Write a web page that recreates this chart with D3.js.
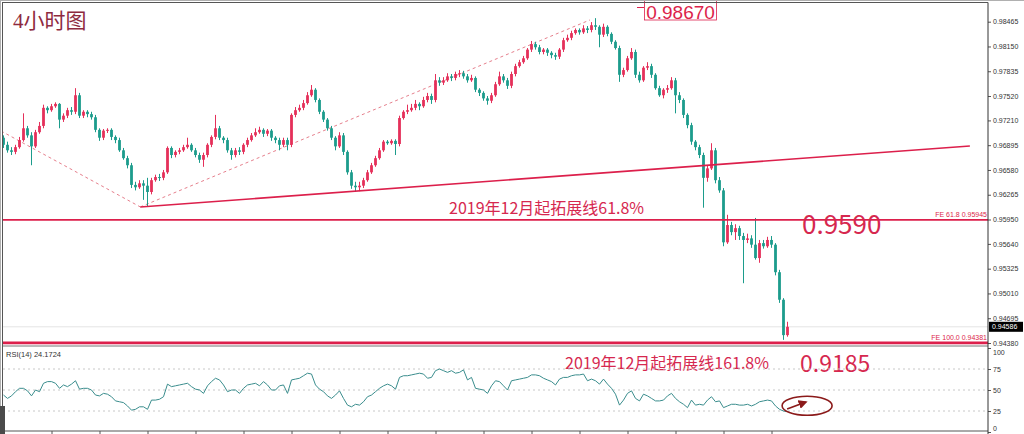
<!DOCTYPE html>
<html><head><meta charset="utf-8">
<script src="https://cdn.jsdelivr.net/npm/d3@7"></script>
<style>html,body{margin:0;padding:0;background:#fff;overflow:hidden}svg{display:block}</style>
</head><body>
<svg id="chart" width="1024" height="434"></svg>
<script>
// ---------------- DATA ----------------
const openP = [0.9699,0.9690,0.9683,0.9681,0.9687,0.9696,0.9711,0.9702,0.9688,0.9706,
0.9714,0.9737,0.9734,0.9739,0.9742,0.9722,0.9727,0.9734,0.9732,0.9753,
0.9727,0.9732,0.9729,0.9725,0.9709,0.9699,0.9708,0.9709,0.9700,0.9696,
0.9683,0.9673,0.9664,0.9639,0.9636,0.9641,0.9638,0.9630,0.9645,0.9649,
0.9648,0.9655,0.9686,0.9677,0.9681,0.9683,0.9687,0.9690,0.9683,0.9677,
0.9671,0.9677,0.9690,0.9700,0.9711,0.9699,0.9696,0.9683,0.9677,0.9683,
0.9681,0.9690,0.9696,0.9702,0.9706,0.9709,0.9704,0.9708,0.9699,0.9696,
0.9690,0.9696,0.9690,0.9728,0.9734,0.9737,0.9743,0.9753,0.9760,0.9747,
0.9732,0.9722,0.9711,0.9699,0.9688,0.9702,0.9681,0.9655,0.9638,0.9636,
0.9638,0.9645,0.9655,0.9664,0.9673,0.9683,0.9694,0.9692,0.9695,0.9691,
0.9724,0.9732,0.9734,0.9737,0.9742,0.9739,0.9747,0.9752,0.9747,0.9772,
0.9769,0.9772,0.9777,0.9775,0.9780,0.9781,0.9777,0.9772,0.9775,0.9760,
0.9756,0.9749,0.9746,0.9753,0.9767,0.9777,0.9772,0.9765,0.9780,0.9790,
0.9795,0.9800,0.9811,0.9818,0.9814,0.9808,0.9811,0.9807,0.9804,0.9802,
0.9811,0.9823,0.9826,0.9832,0.9836,0.9833,0.9838,0.9836,0.9842,0.9840,
0.9830,0.9840,0.9831,0.9821,0.9813,0.9779,0.9785,0.9800,0.9808,0.9779,
0.9772,0.9788,0.9790,0.9779,0.9762,0.9753,0.9760,0.9762,0.9772,0.9753,
0.9747,0.9728,0.9715,0.9694,0.9687,0.9677,0.9648,0.9660,0.9683,0.9645,
0.9632,0.9566,0.9588,0.9579,0.9584,0.9574,0.9569,0.9571,0.9563,0.9546,
0.9565,0.9561,0.9569,0.9563,0.9528,0.9493,0.9448];
const highP = [0.9702,0.9694,0.9687,0.9690,0.9700,0.9730,0.9714,0.9706,0.9709,0.9719,
0.9741,0.9739,0.9742,0.9744,0.9743,0.9730,0.9737,0.9738,0.9762,0.9756,
0.9734,0.9734,0.9732,0.9728,0.9711,0.9710,0.9711,0.9711,0.9702,0.9699,
0.9686,0.9676,0.9667,0.9643,0.9645,0.9645,0.9648,0.9648,0.9652,0.9653,
0.9658,0.9688,0.9688,0.9683,0.9686,0.9690,0.9699,0.9692,0.9686,0.9680,
0.9680,0.9692,0.9702,0.9728,0.9714,0.9701,0.9699,0.9686,0.9686,0.9687,
0.9692,0.9699,0.9705,0.9711,0.9713,0.9711,0.9710,0.9710,0.9701,0.9699,
0.9699,0.9699,0.9730,0.9738,0.9741,0.9747,0.9757,0.9766,0.9762,0.9749,
0.9734,0.9724,0.9714,0.9701,0.9706,0.9705,0.9683,0.9658,0.9643,0.9643,
0.9648,0.9658,0.9667,0.9676,0.9686,0.9696,0.9696,0.9697,0.9697,0.9727,
0.9734,0.9741,0.9742,0.9747,0.9744,0.9751,0.9756,0.9755,0.9780,0.9776,
0.9776,0.9781,0.9780,0.9783,0.9785,0.9784,0.9780,0.9779,0.9777,0.9762,
0.9758,0.9752,0.9756,0.9770,0.9783,0.9780,0.9775,0.9783,0.9793,0.9798,
0.9803,0.9813,0.9822,0.9821,0.9817,0.9813,0.9813,0.9809,0.9807,0.9813,
0.9826,0.9830,0.9835,0.9838,0.9838,0.9842,0.9841,0.9846,0.9851,0.9842,
0.9844,0.9842,0.9833,0.9823,0.9816,0.9788,0.9803,0.9813,0.9811,0.9783,
0.9790,0.9795,0.9793,0.9781,0.9765,0.9762,0.9766,0.9776,0.9775,0.9757,
0.9749,0.9730,0.9718,0.9696,0.9690,0.9680,0.9664,0.9692,0.9686,0.9649,
0.9635,0.9601,0.9592,0.9589,0.9587,0.9578,0.9577,0.9575,0.9597,0.9569,
0.9569,0.9573,0.9574,0.9565,0.9531,0.9495,0.9465];
const lowP = [0.9686,0.9680,0.9677,0.9678,0.9685,0.9694,0.9699,0.9664,0.9686,0.9704,
0.9711,0.9730,0.9732,0.9737,0.9711,0.9719,0.9724,0.9728,0.9729,0.9724,
0.9724,0.9725,0.9722,0.9706,0.9695,0.9696,0.9705,0.9696,0.9692,0.9681,
0.9671,0.9660,0.9635,0.9632,0.9634,0.9620,0.9611,0.9627,0.9643,0.9644,
0.9645,0.9653,0.9673,0.9674,0.9678,0.9681,0.9685,0.9681,0.9674,0.9667,
0.9662,0.9674,0.9687,0.9697,0.9696,0.9692,0.9680,0.9671,0.9674,0.9677,
0.9678,0.9687,0.9694,0.9700,0.9704,0.9700,0.9701,0.9695,0.9692,0.9683,
0.9687,0.9683,0.9687,0.9725,0.9732,0.9734,0.9741,0.9751,0.9744,0.9729,
0.9719,0.9708,0.9696,0.9683,0.9686,0.9677,0.9652,0.9634,0.9630,0.9631,
0.9635,0.9643,0.9653,0.9662,0.9671,0.9681,0.9690,0.9690,0.9677,0.9688,
0.9722,0.9729,0.9732,0.9734,0.9734,0.9737,0.9744,0.9742,0.9744,0.9765,
0.9766,0.9770,0.9771,0.9772,0.9776,0.9774,0.9769,0.9770,0.9757,0.9752,
0.9746,0.9741,0.9743,0.9751,0.9765,0.9769,0.9761,0.9762,0.9777,0.9788,
0.9793,0.9798,0.9808,0.9811,0.9805,0.9805,0.9803,0.9800,0.9798,0.9799,
0.9808,0.9821,0.9823,0.9830,0.9830,0.9831,0.9832,0.9833,0.9836,0.9814,
0.9827,0.9828,0.9818,0.9811,0.9770,0.9776,0.9783,0.9798,0.9775,0.9769,
0.9770,0.9785,0.9775,0.9760,0.9751,0.9749,0.9756,0.9760,0.9730,0.9743,
0.9724,0.9711,0.9690,0.9683,0.9673,0.9610,0.9643,0.9658,0.9641,0.9629,
0.9561,0.9564,0.9575,0.9569,0.9569,0.9514,0.9565,0.9559,0.9544,0.9540,
0.9558,0.9559,0.9559,0.9524,0.9489,0.9442,0.9446];
const closeP = [0.9690,0.9683,0.9681,0.9687,0.9696,0.9711,0.9702,0.9688,0.9706,0.9714,
0.9737,0.9734,0.9739,0.9742,0.9722,0.9727,0.9734,0.9732,0.9753,0.9727,
0.9732,0.9729,0.9725,0.9709,0.9699,0.9708,0.9709,0.9700,0.9696,0.9683,
0.9673,0.9664,0.9639,0.9636,0.9641,0.9638,0.9630,0.9645,0.9649,0.9648,
0.9655,0.9686,0.9677,0.9681,0.9683,0.9687,0.9690,0.9683,0.9677,0.9671,
0.9677,0.9690,0.9700,0.9711,0.9699,0.9696,0.9683,0.9677,0.9683,0.9681,
0.9690,0.9696,0.9702,0.9706,0.9709,0.9704,0.9708,0.9699,0.9696,0.9690,
0.9696,0.9690,0.9728,0.9734,0.9737,0.9743,0.9753,0.9760,0.9747,0.9732,
0.9722,0.9711,0.9699,0.9688,0.9702,0.9681,0.9655,0.9638,0.9636,0.9638,
0.9645,0.9655,0.9664,0.9673,0.9683,0.9694,0.9692,0.9695,0.9691,0.9724,
0.9732,0.9734,0.9737,0.9742,0.9739,0.9747,0.9752,0.9747,0.9772,0.9769,
0.9772,0.9777,0.9775,0.9780,0.9781,0.9777,0.9772,0.9775,0.9760,0.9756,
0.9749,0.9746,0.9753,0.9767,0.9777,0.9772,0.9765,0.9780,0.9790,0.9795,
0.9800,0.9811,0.9818,0.9814,0.9808,0.9811,0.9807,0.9804,0.9802,0.9811,
0.9823,0.9826,0.9832,0.9836,0.9833,0.9838,0.9836,0.9842,0.9840,0.9830,
0.9840,0.9831,0.9821,0.9813,0.9779,0.9785,0.9800,0.9808,0.9779,0.9772,
0.9788,0.9790,0.9779,0.9762,0.9753,0.9760,0.9762,0.9772,0.9753,0.9747,
0.9728,0.9715,0.9694,0.9687,0.9677,0.9648,0.9660,0.9683,0.9645,0.9632,
0.9566,0.9588,0.9579,0.9584,0.9574,0.9569,0.9571,0.9563,0.9546,0.9565,
0.9561,0.9569,0.9563,0.9528,0.9493,0.9448,0.94586];
const rsi14 = [44,40,43,48,52,52,49,43,50,48,
58,60,60,58,52,56,54,57,61,51,
52,52,50,44,43,46,45,42,37,36,
35,31,26,27,30,30,27,38,38,39,
42,57,54,55,56,57,58,54,51,50,
46,55,60,64,62,56,48,50,50,46,
52,56,57,58,55,60,56,50,50,55,
56,46,62,63,64,67,70,69,56,51,
48,43,40,44,49,40,32,30,33,32,
36,42,44,48,52,55,57,55,51,65,
67,67,68,69,70,69,64,65,73,75,
73,71,73,70,71,74,62,65,52,51,
50,46,55,61,60,55,50,61,62,63,
64,65,68,68,67,64,62,60,56,63,
65,65,67,68,68,69,61,63,61,57,
63,57,52,45,32,38,46,49,40,37,
45,43,40,37,37,38,43,46,40,36,
33,29,38,32,33,32,38,42,36,37,
29,31,33,33,32,32,33,31,33,36,
37,38,37,31,27,25,24.17];
const priceTicks = [0.98465,0.98150,0.97835,0.97520,0.97210,0.96895,0.96580,0.96265,0.95950,0.95640,0.95325,0.95010,0.94695,0.94380];
const rsiTicks = [100,75,50,25,0];
const rsiLevels = [75,50,25];
const timeTicks = [0,12,24,36,48,60,72,84,96,108,120,132,144,156,168,180,192];
const feLevels = [{name:"FE 61.8", value:0.95945},{name:"FE 100.0", value:0.94381}];
const lastPrice = 0.94586;
const rsiNow = 24.1724;
// trend lines in (bar index, price)
const solidTrend = [[34.2,0.96110],[241.6,0.96885]];
const dashedTrend = [[[-0.6,0.97075],[34.2,0.96110]],[[34.2,0.96110],[146.6,0.98487]]];
const topLevel = 0.98670;
const rsiMark = {cx:200.9, cy:31.3, from:[195.9,27.4], to:[200.6,35.7]};

// ---------------- LAYOUT ----------------
const svg = d3.select("#chart");
const RED = "#e5305a", TEAL = "#1c9c8c", LINE = "#dc1f4b", TXT = "#d6284f";
const axisX = 988;
const x = d3.scaleLinear().domain([0,196]).range([3.5,787.5]);
const y = d3.scaleLinear().domain([0.94380,0.98465]).range([343,21.7]);
const yr = d3.scaleLinear().domain([0,100]).range([432,348]);

svg.append("rect").attr("width",1024).attr("height",434).attr("fill","#fff");

const defs = svg.append("defs");
defs.append("clipPath").attr("id","mainClip").append("rect").attr("x",3).attr("y",3).attr("width",axisX-3).attr("height",342);
defs.append("clipPath").attr("id","rsiClip").append("rect").attr("x",3).attr("y",347).attr("width",axisX-3).attr("height",85);
defs.append("marker").attr("id","arr").attr("viewBox","0 0 10 10").attr("refX",8).attr("refY",5)
  .attr("markerWidth",5).attr("markerHeight",5).attr("orient","auto")
  .append("path").attr("d","M0,0L10,5L0,10z").attr("fill","#8b1a1a");

const main = svg.append("g").attr("clip-path","url(#mainClip)");

// current price line
main.append("line").attr("x1",3).attr("x2",axisX).attr("y1",y(lastPrice)).attr("y2",y(lastPrice))
  .attr("stroke","#e4e4e4").attr("stroke-width",1);

// dashed trend lines
dashedTrend.forEach(seg=>{
  main.append("line").attr("x1",x(seg[0][0])).attr("y1",y(seg[0][1])).attr("x2",x(seg[1][0])).attr("y2",y(seg[1][1]))
    .attr("stroke","#e2707f").attr("stroke-width",0.9).attr("stroke-dasharray","3,3");
});

// candles
const idx = d3.range(closeP.length);
const cg = main.append("g");
cg.selectAll("line.w").data(idx).join("line").attr("class","w")
  .attr("x1",i=>x(i)).attr("x2",i=>x(i))
  .attr("y1",i=>y(highP[i])).attr("y2",i=>y(lowP[i]))
  .attr("stroke",i=>closeP[i]>=openP[i]?RED:TEAL).attr("stroke-width",1);
cg.selectAll("rect.b").data(idx).join("rect").attr("class","b")
  .attr("x",i=>x(i)-1.4).attr("width",2.8)
  .attr("y",i=>y(Math.max(openP[i],closeP[i])))
  .attr("height",i=>Math.max(1,y(Math.min(openP[i],closeP[i]))-y(Math.max(openP[i],closeP[i]))))
  .attr("fill",i=>closeP[i]>=openP[i]?RED:TEAL);

// solid trend line
main.append("line").attr("x1",x(solidTrend[0][0])).attr("y1",y(solidTrend[0][1]))
  .attr("x2",x(solidTrend[1][0])).attr("y2",y(solidTrend[1][1]))
  .attr("stroke",LINE).attr("stroke-width",1.6);

// FE horizontal lines
feLevels.forEach((f,k)=>{
  main.append("line").attr("x1",3).attr("x2",axisX).attr("y1",y(f.value)).attr("y2",y(f.value))
    .attr("stroke",LINE).attr("stroke-width",k===0?1.8:2.6);
  main.append("text").attr("x",axisX-1).attr("y",y(f.value)-3).attr("text-anchor","end")
    .attr("font-family","Liberation Sans, Arial, sans-serif").attr("font-size",7).attr("fill",LINE)
    .text(f.name+"  "+f.value.toFixed(5));
});

// top level box
const topG = svg.append("g");
topG.append("line").attr("x1",637).attr("x2",644).attr("y1",7.5).attr("y2",7.5).attr("stroke",LINE).attr("stroke-width",1);
topG.append("rect").attr("x",644.5).attr("y",-2).attr("width",72).attr("height",22).attr("fill","#fff").attr("stroke",LINE).attr("stroke-width",0.8);
topG.append("text").attr("x",680.5).attr("y",18.5).attr("text-anchor","middle")
  .attr("font-family","Liberation Sans, Arial, sans-serif").attr("font-size",19).attr("fill",LINE).text(topLevel.toFixed(5));

// annotations
const cjk = "'Noto Sans CJK SC','Noto Sans',sans-serif";
svg.append("text").attr("x",13).attr("y",28).attr("font-family","'Liberation Serif','Noto Sans CJK SC',serif")
  .attr("font-size",21).attr("fill","#8e2a3e").text("4小时图");
svg.append("text").attr("x",449).attr("y",214).attr("font-family",cjk).attr("font-size",16).attr("fill",TXT).text("2019年12月起拓展线61.8%");
svg.append("text").attr("x",802).attr("y",234).attr("font-family",cjk).attr("font-size",26).attr("fill",TXT).text("0.9590");
svg.append("text").attr("x",565).attr("y",369).attr("font-family",cjk).attr("font-size",16).attr("fill",TXT).text("2019年12月起拓展线161.8%");
svg.append("text").attr("x",800).attr("y",372).attr("font-family",cjk).attr("font-size",23).attr("fill",TXT).text("0.9185");

// price axis
const pa = svg.append("g").attr("transform",`translate(${axisX},0)`)
  .call(d3.axisRight(y).tickValues(priceTicks).tickSize(3).tickPadding(2).tickFormat(d3.format(".5f")));
pa.select(".domain").remove();
pa.selectAll("line").attr("stroke","#555");
pa.selectAll("text").attr("font-family","Liberation Sans, Arial, sans-serif").attr("font-size",7).attr("fill","#333");

// last price box
svg.append("rect").attr("x",989).attr("y",y(lastPrice)-5).attr("width",34).attr("height",10).attr("fill","#000");
svg.append("text").attr("x",992).attr("y",y(lastPrice)+2.5).attr("font-family","Liberation Sans, Arial, sans-serif")
  .attr("font-size",7).attr("fill","#fff").text(lastPrice.toFixed(5));

// panel separator
svg.append("line").attr("x1",2).attr("x2",axisX).attr("y1",346).attr("y2",346).attr("stroke","#777").attr("stroke-width",1);

// RSI panel
const rg = svg.append("g").attr("clip-path","url(#rsiClip)");
rsiLevels.forEach(v=>{
  rg.append("line").attr("x1",3).attr("x2",axisX).attr("y1",yr(v)).attr("y2",yr(v))
    .attr("stroke","#c8c8c8").attr("stroke-width",1).attr("stroke-dasharray","2,3");
});
rg.append("path").datum(rsi14).attr("fill","none").attr("stroke","#3a8d8d").attr("stroke-width",1)
  .attr("d",d3.line().x((d,i)=>x(i)).y(d=>yr(d)));
svg.append("text").attr("x",6).attr("y",357).attr("font-family","Liberation Sans, Arial, sans-serif")
  .attr("font-size",7.5).attr("fill","#333").text("RSI(14) "+rsiNow.toFixed(4));

// RSI mark
svg.append("ellipse").attr("cx",x(rsiMark.cx)).attr("cy",yr(rsiMark.cy)).attr("rx",25).attr("ry",9.5)
  .attr("fill","none").attr("stroke","#8b1a1a").attr("stroke-width",1.6);
svg.append("line").attr("x1",x(rsiMark.from[0])).attr("y1",yr(rsiMark.from[1]))
  .attr("x2",x(rsiMark.to[0])).attr("y2",yr(rsiMark.to[1]))
  .attr("stroke","#8b1a1a").attr("stroke-width",1.8).attr("marker-end","url(#arr)");

const ra = svg.append("g").attr("transform",`translate(${axisX},0)`)
  .call(d3.axisRight(yr).tickValues(rsiTicks).tickSize(3).tickPadding(2));
ra.select(".domain").remove();
ra.selectAll("line").attr("stroke","#555");
ra.selectAll("text").attr("font-family","Liberation Sans, Arial, sans-serif").attr("font-size",7).attr("fill","#333")
  .attr("dy",d=>d===100?"0.9em":d===0?"-0.2em":"0.32em");

// time axis
const ta = svg.append("g").attr("transform","translate(0,431)")
  .call(d3.axisBottom(x).tickValues(timeTicks).tickSize(3).tickFormat(""));
ta.select(".domain").remove();
ta.selectAll("line").attr("stroke","#555");

// frame
svg.append("line").attr("x1",2).attr("x2",axisX).attr("y1",431).attr("y2",431).attr("stroke","#555");
svg.append("line").attr("x1",axisX).attr("x2",axisX).attr("y1",2.5).attr("y2",434).attr("stroke","#333");
svg.append("line").attr("x1",0).attr("x2",1024).attr("y1",0.5).attr("y2",0.5).attr("stroke","#b0b0b0");
svg.append("line").attr("x1",2).attr("x2",axisX).attr("y1",2.5).attr("y2",2.5).attr("stroke","#555");
svg.append("line").attr("x1",2.5).attr("x2",2.5).attr("y1",2).attr("y2",434).attr("stroke","#555");
svg.append("line").attr("x1",0.5).attr("x2",0.5).attr("y1",0).attr("y2",434).attr("stroke","#b0b0b0");
svg.append("rect").attr("x",0).attr("y",406).attr("width",5).attr("height",28).attr("fill","#4a4a4a");
</script>
</body></html>
